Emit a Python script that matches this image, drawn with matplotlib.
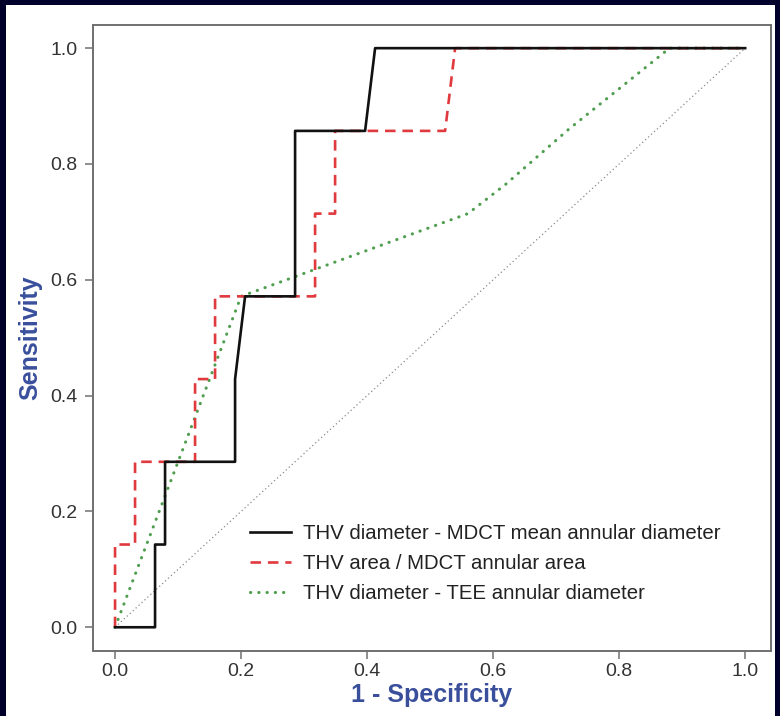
import matplotlib.pyplot as plt
from matplotlib.patches import Rectangle

plt.rcParams['font.family'] = ['Liberation Sans', 'DejaVu Sans']

# ROC curves (1 - specificity, sensitivity)
mdct_diam_x = [0, 4/63, 4/63, 5/63, 5/63, 12/63, 12/63, 13/63, 18/63, 18/63, 25/63, 26/63, 1.0]
mdct_diam_y = [0, 0, 1/7, 1/7, 2/7, 2/7, 3/7, 4/7, 4/7, 6/7, 6/7, 1.0, 1.0]

mdct_area_x = [0, 0, 2/63, 2/63, 8/63, 8/63, 10/63, 10/63, 20/63, 20/63, 22/63, 22/63, 33/63, 34/63, 1.0]
mdct_area_y = [0, 1/7, 1/7, 2/7, 2/7, 3/7, 3/7, 4/7, 4/7, 5/7, 5/7, 6/7, 6/7, 1.0, 1.0]

tee_diam_x = [0, 0.20, 0.56, 0.62, 0.72, 0.88, 1.0]
tee_diam_y = [0, 4/7, 5/7, 0.765, 0.86, 1.0, 1.0]

labels = ['THV diameter - MDCT mean annular diameter',
          'THV area / MDCT annular area',
          'THV diameter - TEE annular diameter']

navy = '#00002a'
blue = '#3a4f9c'
spine = '#707070'

fig = plt.figure(figsize=(7.8, 7.16), dpi=100)
fig.patch.set_facecolor(navy)
# white slide panel
fig.add_artist(Rectangle((6/780, 0), 769/780, 711/716, transform=fig.transFigure,
                         facecolor='white', edgecolor='none', zorder=0))

ax = fig.add_axes([93/780, 65/716, 678/780, 626/716])
ax.set_facecolor('white')

ax.plot([0, 1], [0, 1], color='#8a8a8a', lw=0.9, linestyle=(0, (1, 2.2)), zorder=1)
ax.plot(tee_diam_x, tee_diam_y, color='#4f9e4f', lw=2.2, linestyle=(0, (0.1, 2.6)),
        dash_capstyle='round', label=labels[2], zorder=2)
ax.plot(mdct_area_x, mdct_area_y, color='#e0393e', lw=1.9, linestyle=(0, (4, 2.6)),
        label=labels[1], zorder=3)
ax.plot(mdct_diam_x, mdct_diam_y, color='#111111', lw=1.9, label=labels[0], zorder=4)

ax.set_xlim(-0.035, 1.041)
ax.set_ylim(-0.041, 1.04)
ticks = [0.0, 0.2, 0.4, 0.6, 0.8, 1.0]
ax.set_xticks(ticks)
ax.set_yticks(ticks)
ax.set_xticklabels([f'{t:.1f}' for t in ticks])
ax.set_yticklabels([f'{t:.1f}' for t in ticks])
ax.tick_params(direction='out', length=6, width=1.1, color=spine,
               labelsize=14, labelcolor='#333333', pad=5)
ax.tick_params(axis='x', pad=3)
for s in ax.spines.values():
    s.set_color(spine)
    s.set_linewidth(1.4)

ax.set_xlabel('1 - Specificity', fontsize=18, fontweight='bold', color=blue, labelpad=2)
ax.set_ylabel('Sensitivity', fontsize=18, fontweight='bold', color=blue, labelpad=6)

h, l = ax.get_legend_handles_labels()
order = [2, 1, 0]
ax.legend([h[i] for i in order], [l[i] for i in order], loc='upper left',
          bbox_to_anchor=(0.2316, 0.203), frameon=False, fontsize=14.7,
          borderpad=0, borderaxespad=0, handlelength=2.0, handletextpad=0.6,
          labelspacing=0.55, labelcolor='#222222')

fig.savefig('out.png', dpi=100, facecolor=fig.get_facecolor())
